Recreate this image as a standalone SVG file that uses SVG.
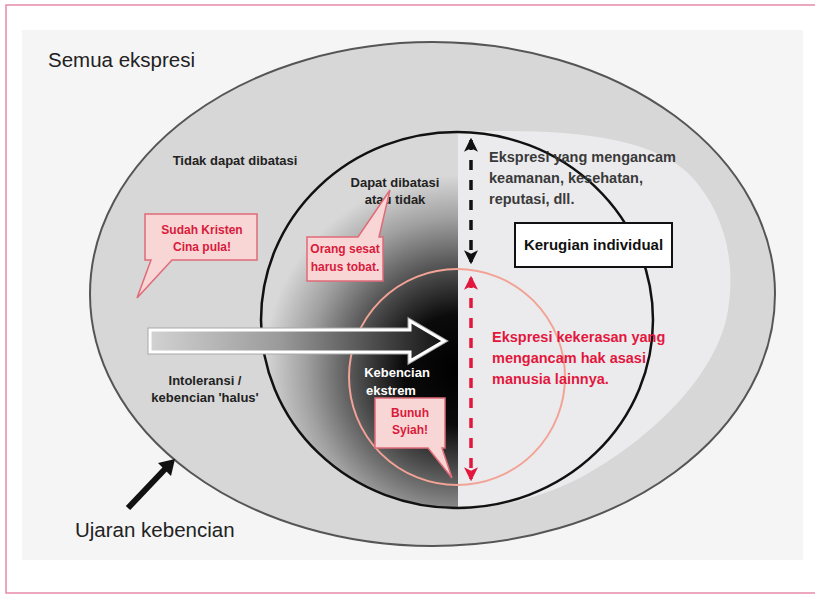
<svg xmlns="http://www.w3.org/2000/svg" width="815" height="596" viewBox="0 0 815 596">
<defs>
  <radialGradient id="dark" gradientUnits="userSpaceOnUse" cx="458" cy="370" r="205">
    <stop offset="0" stop-color="#000"/>
    <stop offset="0.27" stop-color="#0b0b0b"/>
    <stop offset="0.5" stop-color="#505050"/>
    <stop offset="0.74" stop-color="#a0a0a0"/>
    <stop offset="0.95" stop-color="#d8d8d8"/>
  </radialGradient>
  <linearGradient id="arrowFill" gradientUnits="userSpaceOnUse" x1="150" y1="0" x2="440" y2="0">
    <stop offset="0" stop-color="#d2d2d2"/>
    <stop offset="0.45" stop-color="#9a9a9a"/>
    <stop offset="1" stop-color="#161616"/>
  </linearGradient>
  <clipPath id="leftHalf">
    <rect x="0" y="0" width="458" height="596"/>
  </clipPath>
  <marker id="blkHead" viewBox="0 0 12 12" refX="10" refY="6" markerWidth="4" markerHeight="4" orient="auto-start-reverse" markerUnits="strokeWidth">
    <path d="M0,0 L12,6 L0,12 L3,6 Z" fill="#111"/>
  </marker>
  <marker id="redHead" viewBox="0 0 12 12" refX="10" refY="6" markerWidth="4" markerHeight="4" orient="auto-start-reverse" markerUnits="strokeWidth">
    <path d="M0,0 L12,6 L0,12 L3,6 Z" fill="#e3173e"/>
  </marker>
  <style>
    .lbl { font-family: "Liberation Sans", Arial, sans-serif; font-weight: bold; fill: #222; }
    .big { font-family: "Liberation Sans", Arial, sans-serif; fill: #222; }
    .red { font-family: "Liberation Sans", Arial, sans-serif; font-weight: bold; fill: #d81b3c; }
    .bubble { fill: #f9d6d6; stroke: #df6b78; stroke-width: 1.5; }
  </style>
</defs>

<rect x="6" y="5" width="830" height="588" fill="#ffffff" stroke="#e88aa8" stroke-width="1.5"/>
<rect x="22" y="30" width="781" height="530" fill="#f5f5f5"/>

<g id="outer-ellipse">
  <ellipse cx="432.5" cy="294" rx="342.5" ry="252" fill="#d7d7d7" stroke="#555" stroke-width="2"/>
</g>

<g id="inner-circle">
  <ellipse cx="457" cy="320" rx="196" ry="188" fill="url(#dark)" clip-path="url(#leftHalf)"/>
  <path d="M458,132 C560,128 650,135 690,175 C725,212 736,262 728,310 C718,375 650,440 580,478 C540,498 500,508 458,508 Z" fill="#ebebed"/>
  <ellipse cx="457" cy="320" rx="196" ry="188" fill="none" stroke="#111" stroke-width="2.5"/>
</g>

<g id="red-circle">
  <circle cx="457" cy="377" r="108" fill="none" stroke="#f2a396" stroke-width="2"/>
</g>

<g id="intolerance-arrow">
  <path d="M150,330 H410 V321 L444,341 L410,361 V352 H150 Z" fill="none" stroke="#a8a8a8" stroke-width="5" stroke-linejoin="miter"/>
  <path d="M150,330 H410 V321 L444,341 L410,361 V352 H150 Z" fill="url(#arrowFill)" stroke="#ffffff" stroke-width="3" stroke-linejoin="miter"/>
</g>

<g id="connectors">
  <line x1="471" y1="140" x2="471" y2="262" stroke="#111" stroke-width="3.5" stroke-dasharray="10,10" marker-start="url(#blkHead)" marker-end="url(#blkHead)"/>
  <line x1="471" y1="278" x2="471" y2="479" stroke="#e3173e" stroke-width="3.5" stroke-dasharray="10,10" marker-start="url(#redHead)" marker-end="url(#redHead)"/>
  <line x1="128" y1="508" x2="166" y2="468" stroke="#111" stroke-width="6"/>
  <path d="M175,459 L171,476 L158,463 Z" fill="#111"/>
</g>

<g id="label-semua">
  <text class="big" x="48" y="67" font-size="20.5">Semua ekspresi</text>
</g>
<g id="label-tidak">
  <text class="lbl" x="235" y="164.5" font-size="13" text-anchor="middle">Tidak dapat dibatasi</text>
</g>
<g id="label-dapat">
  <text class="lbl" x="395" y="186.5" font-size="13" text-anchor="middle">Dapat dibatasi</text>
  <text class="lbl" x="395" y="203.5" font-size="13" text-anchor="middle">atau tidak</text>
</g>
<g id="bubble-sudah">
  <path class="bubble" d="M145,214 H257 V260 H172 L137,298 L151,260 H145 Z"/>
  <text class="red" x="202" y="234" font-size="12" text-anchor="middle">Sudah Kristen</text>
  <text class="red" x="202" y="251" font-size="12" text-anchor="middle">Cina pula!</text>
</g>
<g id="bubble-orang">
  <path class="bubble" d="M307,237 H358 L390,190 L379,237 H383 V281 H307 Z"/>
  <text class="red" x="345" y="253" font-size="12" text-anchor="middle">Orang sesat</text>
  <text class="red" x="345" y="271" font-size="12" text-anchor="middle">harus tobat.</text>
</g>
<g id="label-intoleransi">
  <text class="lbl" x="205" y="385" font-size="13" text-anchor="middle">Intoleransi /</text>
  <text class="lbl" x="205" y="402" font-size="13" text-anchor="middle">kebencian 'halus'</text>
</g>
<g id="label-ekstrem">
  <text class="lbl" x="397" y="376.5" font-size="13" text-anchor="middle" style="fill:#fff">Kebencian</text>
  <text class="lbl" x="391" y="394.5" font-size="13" text-anchor="middle" style="fill:#fff">ekstrem</text>
</g>
<g id="bubble-bunuh">
  <path class="bubble" d="M375,398 H445 V448 H442 L452,478 L428,448 H375 Z"/>
  <text class="red" x="410" y="417" font-size="12" text-anchor="middle">Bunuh</text>
  <text class="red" x="410" y="434" font-size="12" text-anchor="middle">Syiah!</text>
</g>
<g id="label-ancam">
  <text class="lbl" x="489" y="162" font-size="14.5" style="fill:#3a3a3a">Ekspresi yang mengancam</text>
  <text class="lbl" x="489" y="183" font-size="14.5" style="fill:#3a3a3a">keamanan, kesehatan,</text>
  <text class="lbl" x="489" y="204" font-size="14.5" style="fill:#3a3a3a">reputasi, dll.</text>
</g>
<g id="box-kerugian">
  <rect x="515" y="223" width="157" height="44" fill="#fff" stroke="#111" stroke-width="2"/>
  <text class="lbl" x="593.5" y="250" font-size="15" text-anchor="middle" style="fill:#111">Kerugian individual</text>
</g>
<g id="label-kekerasan">
  <text class="red" x="492" y="342" font-size="14.5" style="fill:#e3173e">Ekspresi kekerasan yang</text>
  <text class="red" x="492" y="363" font-size="14.5" style="fill:#e3173e">mengancam hak asasi</text>
  <text class="red" x="492" y="384" font-size="14.5" style="fill:#e3173e">manusia lainnya.</text>
</g>
<g id="label-ujaran">
  <text class="big" x="75" y="537" font-size="20.5">Ujaran kebencian</text>
</g>
</svg>
